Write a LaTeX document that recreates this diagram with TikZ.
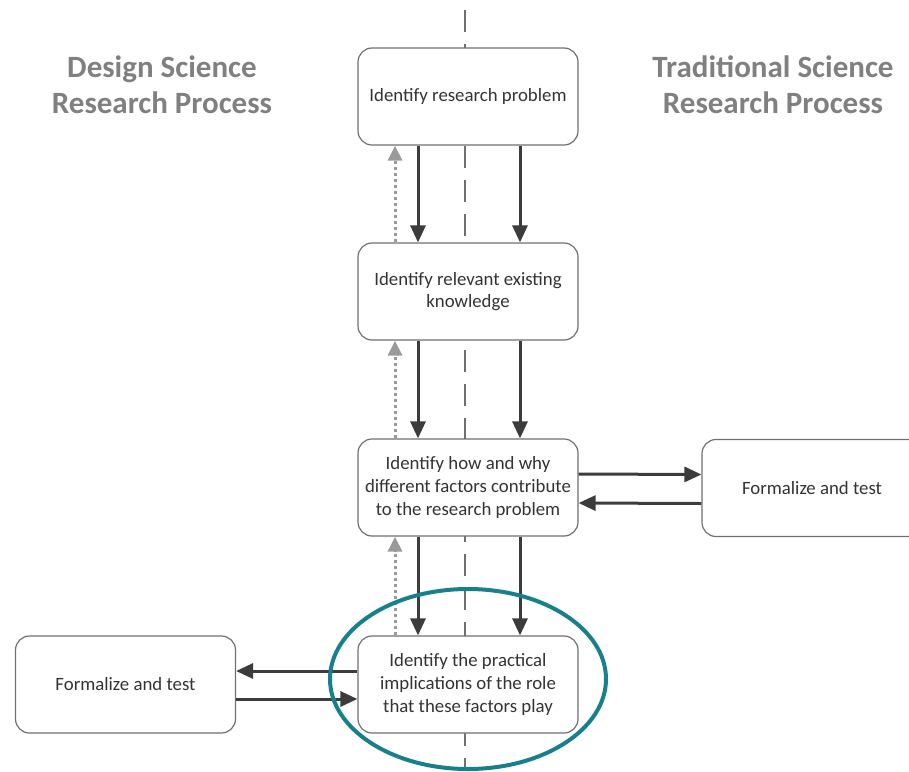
\documentclass[tikz,border=0pt]{standalone}
\usepackage{fontspec}
\setmainfont{Carlito}
\usetikzlibrary{arrows.meta}
\definecolor{boxgray}{HTML}{707070}
\definecolor{arrowgray}{HTML}{3C3C3C}
\definecolor{dotgray}{HTML}{9A9A9A}
\definecolor{titlegray}{HTML}{808080}
\definecolor{ringteal}{HTML}{17808C}
\begin{document}
\begin{tikzpicture}[x=0.5pt,y=-0.5pt,
    stage/.style={draw=boxgray,fill=white,line width=0.6pt,rounded corners=7pt,
      minimum width=110pt,minimum height=48.5pt,align=center,text=black!80,
      font=\fontsize{9.4}{11.3}\selectfont},
    title/.style={align=center,text=titlegray,font=\fontsize{15.5}{18}\selectfont\bfseries},
    flow/.style={draw=arrowgray,line width=1.5pt,-{Triangle[length=8.5pt,width=7.5pt]}},
    back/.style={draw=dotgray,line width=1.5pt,dash pattern=on 1.5pt off 1.5pt,
      -{Triangle[length=7.5pt,width=7pt]}}]
  \useasboundingbox (0,0) rectangle (909,771);
  % centre line
  \draw[boxgray,line width=1pt,dash pattern=on 11pt off 6pt] (465,10) -- (465,771);
  % titles
  \node[title] (dsrp) at (162,85) {Design Science\\Research Process};
  \node[title] (tsrp) at (773,85) {Traditional Science\\Research Process};
  % stages
  \node[stage] (problem) at (468,96.5) {Identify research problem};
  \node[stage] (knowledge) at (468,291.5) {Identify relevant existing\\knowledge};
  \node[stage] (factors) at (468,487.5) {Identify how and why\\different factors contribute\\to the research problem};
  \node[stage] (implications) at (468,684.5) {Identify the practical\\implications of the role\\that these factors play};
  \node[stage] (testR) at (812,488) {Formalize and test};
  \node[stage] (testL) at (125.5,684.5) {Formalize and test};
  % arrows
  \foreach \a/\b in {problem/knowledge,knowledge/factors,factors/implications}{
    \draw[flow] ([xshift=-25pt]\a.south) -- ([xshift=-25pt]\b.north);
    \draw[flow] ([xshift=26pt]\a.south) -- ([xshift=26pt]\b.north);
    \draw[back] ([xshift=-36.5pt]\b.north) -- ([xshift=-36.5pt]\a.south);
  }
  \draw[flow] ([yshift=6.75pt]factors.east) -- ([yshift=6.75pt]testR.west);
  \draw[flow] ([yshift=-7.75pt]testR.west) -- ([yshift=-7.75pt]factors.east);
  \draw[flow] ([yshift=6.75pt]implications.west) -- ([yshift=6.75pt]testL.east);
  \draw[flow] ([yshift=-7.25pt]testL.east) -- ([yshift=-7.25pt]implications.west);
  % highlight
  \draw[ringteal,line width=2pt] (implications.center) ++(0,-5.5) ellipse [x radius=138,y radius=90];
\end{tikzpicture}
\end{document}
